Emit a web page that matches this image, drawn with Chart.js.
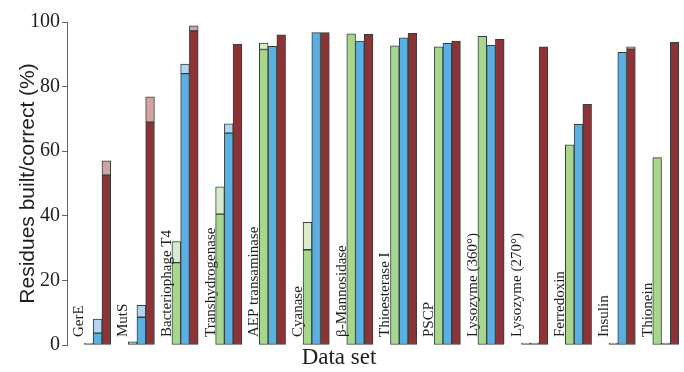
<!DOCTYPE html>
<html>
<head>
<meta charset="utf-8">
<script src="https://cdn.jsdelivr.net/npm/chart.js@4"></script>
<style>
  html, body { margin: 0; padding: 0; background: #ffffff; }
  #wrap { width: 684px; height: 372px; }
</style>
</head>
<body>
<div id="wrap"><canvas id="c" width="684" height="372"></canvas></div>
<script>
// Protein data sets
const categories = [
  "GerE", "MutS", "Bacteriophage T4", "Transhydrogenase", "AEP transaminase",
  "Cyanase", "β-Mannosidase", "Thioesterase I", "PSCP", "Lysozyme (360°)",
  "Lysozyme (270°)", "Ferredoxin", "Insulin", "Thionein"
];

// Residues built (%) and residues correct (%) for the three methods
const greenBuilt   = [0, 1, 32, 49, 93.5, 38, 96.3, 92.6, 92.3, 95.6, 0, 62, 0, 58];
const greenCorrect = [0, 1, 25.5, 40.5, 91.5, 29.5, 96.3, 92.6, 92.3, 95.6, 0, 62, 0, 58];
const blueBuilt    = [8, 12.3, 87, 68.5, 92.5, 96.7, 94.1, 95.1, 93.4, 92.8, 0, 68.3, 90.6, 0];
const blueCorrect  = [3.7, 8.6, 84, 65.6, 92.5, 96.7, 94.1, 95.1, 93.4, 92.8, 0, 68.3, 90.6, 0];
const redBuilt     = [57, 76.8, 98.8, 93.2, 96, 96.7, 96.2, 96.5, 94.1, 94.6, 92.3, 74.5, 92.3, 93.7];
const redCorrect   = [52.6, 69, 97.2, 93.2, 96, 96.7, 96.2, 96.5, 94.1, 94.6, 92.3, 74.5, 91.6, 93.7];

const yTicks = [0, 20, 40, 60, 80, 100];

const EDGE = '#33403b';

function extra(built, correct) {
  return built.map((b, i) => (b - correct[i] > 0.05 ? b - correct[i] : null));
}

function correctSet(data, color, stack) {
  return { data, stack, backgroundColor: color, borderColor: EDGE, borderWidth: 1,
           borderSkipped: false, minBarLength: 2 };
}
function extraSet(data, color, stack) {
  return { data, stack, backgroundColor: color, borderColor: EDGE, borderWidth: 1,
           borderSkipped: false };
}
// empty slots that leave room for the rotated name of each data set
function spacer(stack) {
  return { data: categories.map(() => null), stack, backgroundColor: 'rgba(0,0,0,0)', borderWidth: 0 };
}

const groupLabels = {
  id: 'groupLabels',
  afterDatasetsDraw(chart) {
    const ctx = chart.ctx;
    const meta = chart.getDatasetMeta(2);
    const bottom = chart.chartArea.bottom;
    ctx.save();
    ctx.fillStyle = '#1e1e1e';
    ctx.font = '15px "Liberation Serif", "Times New Roman", serif';
    ctx.textAlign = 'left';
    ctx.textBaseline = 'middle';
    categories.forEach((name, i) => {
      const bar = meta.data[i];
      const left = bar.x - bar.width / 2;
      ctx.save();
      ctx.translate(left - 5, bottom - 8);
      ctx.rotate(-Math.PI / 2);
      ctx.fillText(name, 0, 0);
      ctx.restore();
    });
    ctx.font = '23px "Liberation Serif", "Times New Roman", serif';
    ctx.textAlign = 'center';
    ctx.textBaseline = 'middle';
    ctx.fillText('Data set', 339, 358);
    ctx.restore();
  }
};

new Chart(document.getElementById('c'), {
  type: 'bar',
  data: {
    labels: categories,
    datasets: [
      spacer('s1'),
      spacer('s2'),
      correctSet(greenCorrect, '#a9d68d', 'g'),
      extraSet(extra(greenBuilt, greenCorrect), '#d8ebcb', 'g'),
      correctSet(blueCorrect, '#5aafe3', 'b'),
      extraSet(extra(blueBuilt, blueCorrect), '#b3d6ee', 'b'),
      correctSet(redCorrect, '#8b3337', 'r'),
      extraSet(extra(redBuilt, redCorrect), '#d2a3a3', 'r')
    ]
  },
  options: {
    responsive: false,
    animation: false,
    events: [],
    layout: { padding: { top: 22, bottom: 27, left: 0, right: 5 } },
    datasets: { bar: { categoryPercentage: 1, barPercentage: 1 } },
    plugins: { legend: { display: false }, tooltip: { enabled: false } },
    scales: {
      x: { display: false, stacked: true, grid: { display: false } },
      y: {
        stacked: true,
        min: 0,
        max: 100,
        afterBuildTicks(scale) { scale.ticks = yTicks.map(v => ({ value: v })); },
        afterFit(scale) { scale.width = 67; },
        grid: { drawOnChartArea: false, tickLength: 5, color: '#666', lineWidth: 1 },
        border: { display: true, color: '#666', width: 1 },
        ticks: {
          color: '#1e1e1e',
          padding: 2,
          font: { family: '"Liberation Serif", "Times New Roman", serif', size: 20 }
        },
        title: {
          display: true,
          text: 'Residues built/correct (%)',
          color: '#1e1e1e',
          padding: { top: 16, bottom: 0 },
          font: { family: '"Liberation Sans", Arial, sans-serif', size: 21 }
        }
      }
    }
  },
  plugins: [groupLabels]
});
</script>
</body>
</html>
